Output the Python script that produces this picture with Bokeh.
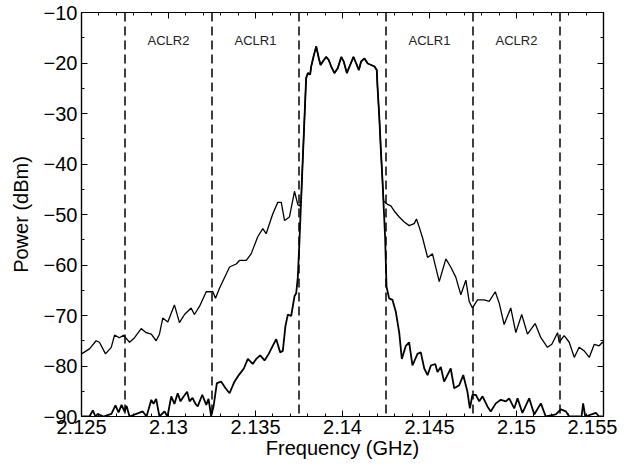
from bokeh.plotting import figure
from bokeh.models import Range1d, LinearAxis, SingleIntervalTicker, CustomJSTickFormatter, Span, ColumnDataSource
from bokeh.embed import file_html
from bokeh.resources import INLINE
from bokeh.core.properties import value

# ---------------- data ----------------
# wide skirt (upper) curve, left side
upper_left_f = [2.125, 2.12546, 2.12584, 2.12603, 2.12638, 2.12671, 2.1269, 2.12718, 2.12741, 2.12776,
                2.12805, 2.12843, 2.12872, 2.12901, 2.12929, 2.12948, 2.12967, 2.12996, 2.13034, 2.13063,
                2.13092, 2.1313, 2.13149, 2.13178, 2.13217, 2.13255, 2.1327, 2.13293, 2.13351, 2.13389,
                2.13408, 2.13447, 2.13475, 2.13504, 2.13513, 2.13542, 2.13561, 2.13599, 2.13628, 2.13648,
                2.13667, 2.13695, 2.13724, 2.13743, 2.13753, 2.13762]
upper_left_db = [-77.6, -76.6, -75.0, -75.3, -77.6, -76.3, -73.9, -74.4, -73.9, -75.3,
                 -74.4, -72.6, -73.4, -73.7, -75.0, -73.7, -70.5, -71.3, -67.9, -71.4,
                 -69.8, -68.5, -69.8, -68.2, -65.3, -65.3, -66.6, -64.6, -60.4, -59.8,
                 -59.1, -59.1, -57.8, -55.2, -54.4, -52.8, -53.8, -49.9, -47.6, -47.6,
                 -51.2, -50.5, -45.4, -48.0, -48.3, -47.5]

# in-band part shared by both curves
band_f = [2.13767, 2.13779, 2.13791, 2.13801, 2.13814, 2.1382, 2.13833, 2.13849, 2.13864, 2.13874,
          2.13887, 2.13906, 2.13921, 2.13935, 2.13954, 2.13973, 2.13993, 2.14007, 2.14025, 2.14044,
          2.14063, 2.14079, 2.14094, 2.14107, 2.14126, 2.14145, 2.14165, 2.14184, 2.14197, 2.14201,
          2.14211, 2.1422, 2.1423]
band_db = [-43.0, -33.0, -23.0, -22.0, -22.3, -20.7, -18.8, -16.7, -19.1, -20.4,
           -19.7, -18.8, -19.4, -20.7, -22.0, -21.0, -18.8, -19.7, -22.0, -20.4,
           -18.8, -20.1, -21.4, -19.7, -19.1, -20.1, -20.4, -20.7, -21.4, -24.6,
           -30.4, -36.9, -43.4]

# wide skirt (upper) curve, right side
upper_right_f = [2.14236, 2.14259, 2.14278, 2.14297, 2.14326, 2.14355, 2.14383, 2.14412, 2.14425, 2.14441,
                 2.1446, 2.14489, 2.14517, 2.14556, 2.14594, 2.14622, 2.14651, 2.1468, 2.14709, 2.14728,
                 2.14747, 2.14776, 2.14814, 2.14843, 2.14878, 2.14901, 2.14929, 2.14967, 2.14996, 2.1503,
                 2.15063, 2.15107, 2.1514, 2.15178, 2.15203, 2.15236, 2.15245, 2.15274, 2.15303, 2.15332,
                 2.1536, 2.15389, 2.15418, 2.15447, 2.15475, 2.15494, 2.155]
upper_right_db = [-47.3, -48.0, -48.3, -49.3, -50.5, -51.5, -52.2, -51.8, -50.9, -52.5,
                  -54.6, -58.5, -57.8, -63.3, -58.8, -60.4, -62.4, -65.9, -63.0, -67.2,
                  -68.5, -66.9, -66.9, -67.2, -65.3, -67.6, -71.8, -68.5, -73.4, -69.8,
                  -73.7, -71.6, -74.4, -76.3, -75.7, -73.4, -75.3, -74.0, -75.3, -78.3,
                  -76.3, -77.0, -78.3, -75.7, -76.0, -75.3, -75.5]

# narrow skirt (lower) curve, left side
lower_left_f = [2.125, 2.12546, 2.12565, 2.1258, 2.12594, 2.12626, 2.12672, 2.12695, 2.12713, 2.1273,
                2.12747, 2.12759, 2.12776, 2.12852, 2.12874, 2.12901, 2.12914, 2.12929, 2.12948, 2.12977,
                2.12994, 2.13016, 2.13034, 2.13053, 2.13069, 2.13082, 2.13107, 2.13121, 2.13138, 2.13155,
                2.13168, 2.13194, 2.13217, 2.1323, 2.13245, 2.13259, 2.13278, 2.13303, 2.13328, 2.13351,
                2.13379, 2.13404, 2.13433, 2.13456, 2.13484, 2.13504, 2.13527, 2.13552, 2.13576, 2.13599,
                2.13619, 2.13642, 2.13657, 2.13672, 2.13686, 2.13705, 2.13724, 2.13734, 2.13743, 2.13753]
lower_left_db = [-90.0, -90.0, -88.8, -90.0, -89.5, -90.0, -89.5, -87.8, -89.2, -87.7,
                 -89.0, -87.9, -90.0, -89.0, -90.0, -86.7, -87.5, -86.5, -90.0, -89.0,
                 -90.0, -86.0, -87.5, -85.4, -87.0, -86.3, -85.1, -87.0, -86.3, -87.5,
                 -88.0, -85.7, -87.7, -86.5, -89.9, -88.0, -83.4, -83.1, -84.4, -85.4,
                 -83.1, -81.8, -80.5, -78.6, -79.6, -78.6, -77.9, -78.9, -77.6, -76.0,
                 -74.7, -77.3, -77.0, -72.1, -69.8, -70.1, -66.2, -65.6, -62.5, -55.0]

# narrow skirt (lower) curve, right side
lower_right_f = [2.14245, 2.14253, 2.14268, 2.14287, 2.14306, 2.14326, 2.14341, 2.14364, 2.14383, 2.14402,
                 2.14431, 2.1445, 2.1447, 2.14489, 2.14508, 2.14533, 2.14546, 2.14565, 2.14584, 2.14603,
                 2.14622, 2.14642, 2.14671, 2.14694, 2.14718, 2.14732, 2.14747, 2.14766, 2.14786, 2.14805,
                 2.14833, 2.14852, 2.14881, 2.1491, 2.14939, 2.14958, 2.14987, 2.15006, 2.15034, 2.15073,
                 2.15102, 2.1514, 2.15168, 2.15226, 2.15255, 2.15284, 2.15303, 2.15374, 2.15383, 2.15395,
                 2.15456, 2.15475, 2.155]
lower_right_db = [-54.6, -64.3, -66.6, -66.9, -69.2, -73.4, -78.6, -76.0, -75.3, -79.9,
                  -77.6, -77.3, -80.5, -81.8, -79.9, -79.6, -81.2, -80.2, -83.1, -81.8,
                  -80.5, -84.4, -83.8, -81.8, -85.1, -88.4, -85.7, -85.7, -87.0, -86.0,
                  -88.0, -89.0, -87.4, -86.7, -87.0, -86.4, -88.4, -86.4, -89.3, -86.4,
                  -89.6, -87.4, -90.0, -89.6, -88.6, -89.0, -90.0, -90.0, -87.4, -90.0,
                  -89.3, -90.0, -90.0]

aclr_edges = [2.1275, 2.1325, 2.1375, 2.1425, 2.1475, 2.1525]
aclr_labels = ["ACLR2", "ACLR1", "ACLR1", "ACLR2"]
aclr_label_f = [2.130, 2.135, 2.145, 2.150]
aclr_label_db = [-15.6, -15.6, -15.6, -15.6]

x_min, x_max, x_step = 2.125, 2.155, 0.005
y_min, y_max, y_step = -90, -10, 10

upper_f = upper_left_f + band_f + upper_right_f
upper_db = upper_left_db + band_db + upper_right_db
lower_f = lower_left_f + band_f + lower_right_f
lower_db = lower_left_db + band_db + lower_right_db

# ---------------- figure ----------------
FONT = "Liberation Sans"
p = figure(width=617, height=462, output_backend="svg", toolbar_location=None,
           x_range=Range1d(x_min, x_max + 1e-7), y_range=Range1d(y_min, y_max),
           min_border_left=81, min_border_right=14, min_border_top=12, min_border_bottom=46,
           x_axis_label="Frequency (GHz)", y_axis_label="Power (dBm)")
p.grid.visible = False
p.background_fill_color = "white"
p.border_fill_color = "white"
p.outline_line_color = "black"
p.outline_line_width = 1.2

bottom_ax = p.below[0]
left_ax = p.left[0]

xfmt = CustomJSTickFormatter(code="return (Math.round(tick*1000)/1000).toString();")
yfmt = CustomJSTickFormatter(code="var v = Math.round(tick); return v < 0 ? '\\u2212' + Math.abs(v) : '' + v;")
blank = CustomJSTickFormatter(code="return '';")

bottom_ax.ticker = SingleIntervalTicker(interval=x_step, num_minor_ticks=5)
left_ax.ticker = SingleIntervalTicker(interval=y_step, num_minor_ticks=2)
bottom_ax.formatter = xfmt
left_ax.formatter = yfmt

top_ax = LinearAxis(ticker=SingleIntervalTicker(interval=x_step, num_minor_ticks=5), formatter=blank)
right_ax = LinearAxis(ticker=SingleIntervalTicker(interval=y_step, num_minor_ticks=2), formatter=blank)
p.add_layout(top_ax, "above")
p.add_layout(right_ax, "right")

for ax in [top_ax, right_ax]:
    ax.major_label_standoff = 0
    ax.major_label_text_font_size = "1px"

for ax in [bottom_ax, left_ax, top_ax, right_ax]:
    ax.axis_line_color = "black"
    ax.axis_line_width = 1.2
    ax.major_tick_in = 6
    ax.major_tick_out = 0
    ax.minor_tick_in = 3
    ax.minor_tick_out = 0
    ax.major_tick_line_color = "black"
    ax.minor_tick_line_color = "black"

for ax in [bottom_ax, left_ax]:
    ax.major_label_text_font = FONT
    ax.major_label_text_font_size = "20px"
    ax.major_label_text_color = "black"
    ax.axis_label_text_font = FONT
    ax.axis_label_text_font_size = "20px"
    ax.axis_label_text_font_style = "normal"
    ax.axis_label_text_color = "black"

bottom_ax.major_label_standoff = 3
bottom_ax.axis_label_standoff = 0
left_ax.major_label_standoff = 4
left_ax.axis_label_standoff = 9

for e in aclr_edges:
    p.add_layout(Span(location=e, dimension="height", line_color="black",
                      line_width=1.5, line_dash="9 5"))

p.line(upper_f, upper_db, line_color="black", line_width=1.3)
p.line(lower_f, lower_db, line_color="black", line_width=1.8)

src = ColumnDataSource(dict(x=aclr_label_f, y=aclr_label_db, t=aclr_labels))
p.text(x="x", y="y", text="t", source=src, text_font=value(FONT), text_font_size="13px",
       text_align="center", text_baseline="middle", text_color="#222222")

open("out.html", "w").write(file_html(p, INLINE))
